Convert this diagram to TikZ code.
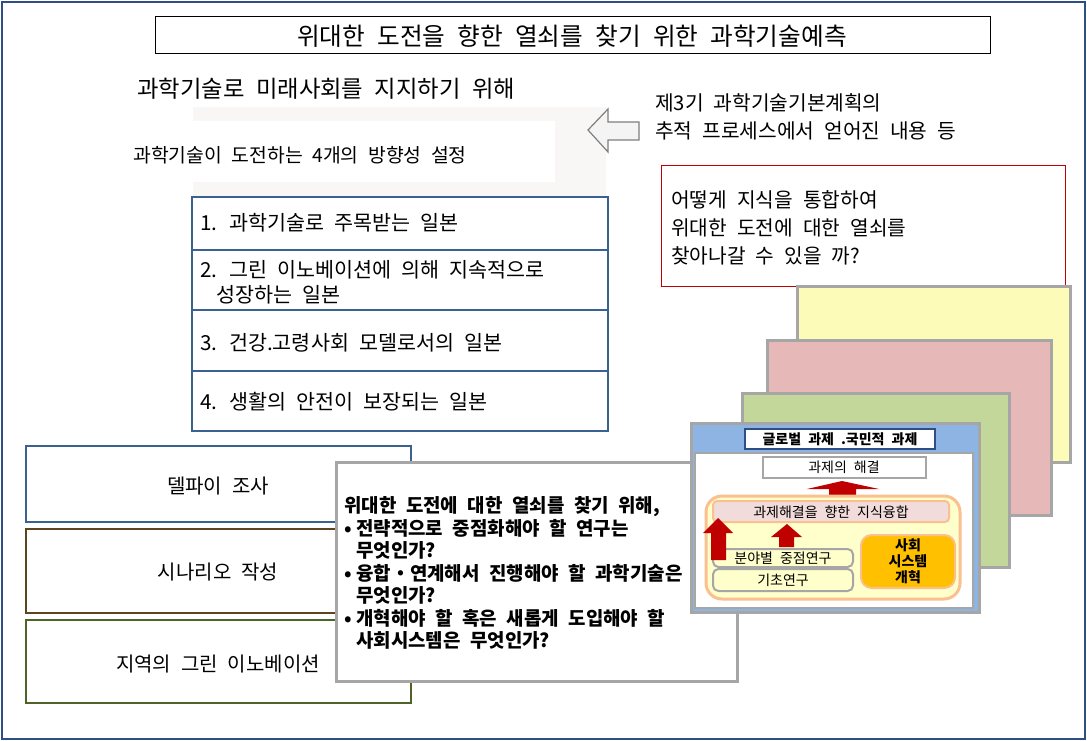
\documentclass[tikz,border=0pt]{standalone}
\usepackage{fontspec}
\setmainfont{Noto Sans CJK KR}[WordSpace=2.2]
\definecolor{frameblue}{HTML}{2E4F86}
\definecolor{listblue}{HTML}{3B6190}
\definecolor{boxbrown}{HTML}{5E4320}
\definecolor{boxolive}{HTML}{4F6228}
\definecolor{boxred}{HTML}{C00000}
\definecolor{cardgray}{HTML}{A6A6A6}
\definecolor{cardyellow}{HTML}{FCFBB8}
\definecolor{cardpink}{HTML}{E6B8B7}
\definecolor{cardgreen}{HTML}{C4D79B}
\definecolor{cardblue}{HTML}{8EB4E3}
\definecolor{paleyellow}{HTML}{FFFFCC}
\definecolor{orangeline}{HTML}{FAC090}
\definecolor{pinkbar}{HTML}{F2DCDB}
\definecolor{orangefill}{HTML}{FFC000}
\definecolor{bggray}{HTML}{F8F7F5}
\definecolor{hollowline}{HTML}{7F7F7F}
\definecolor{hollowfill}{HTML}{F4F4F4}
\newcommand{\qbul}{\makebox[9pt][l]{•}}
\newcommand{\qind}{\hspace*{9pt}}
\begin{document}
\begin{tikzpicture}[x=0.75pt,y=-0.75pt,
  txt/.style={inner sep=0pt, font=\fontsize{15}{18}\selectfont},
  listtxt/.style={inner sep=0pt, font=\fontsize{15.5}{18.75}\selectfont, align=left},
  bigtxt/.style={inner sep=0pt, font=\fontsize{15.2}{21}\selectfont, align=left},
  boldtxt/.style={inner sep=0pt, font=\bfseries\fontsize{14.2}{16.9}\selectfont, align=left},
  smalltxt/.style={inner sep=0pt, font=\fontsize{10.5}{12}\selectfont},
  smallbold/.style={inner sep=0pt, font=\bfseries\fontsize{10.5}{12}\selectfont, align=center},
  listbox/.style={draw=listblue, line width=1.5pt},
  card/.style={draw=cardgray, line width=2.25pt},
  redarrow/.style={fill=boxred, draw=none}
]
\useasboundingbox (0,0) rectangle (1087,741);
\fill[white] (0,0) rectangle (1087,741);
\draw[frameblue, line width=1.5pt] (2,2) rectangle (1085,739);

% title
\draw[black, line width=0.75pt] (155,17) rectangle (990,54);
\node[inner sep=0pt, font=\fontsize{18.5}{20}\selectfont] (title) at (572,36) {위대한 도전을 향한 열쇠를 찾기 위한 과학기술예측};

\node[inner sep=0pt, anchor=west, font=\fontsize{17.5}{20}\selectfont] (sub) at (137,89) {과학기술로 미래사회를 지지하기 위해};

% light background
\fill[bggray] (193,107) rectangle (606,197);
\fill[white] (193,121) rectangle (555,182);
\node[inner sep=0pt, anchor=west, font=\fontsize{14.5}{18}\selectfont] (dir) at (133,155) {과학기술이 도전하는 4개의 방향성 설정};

% hollow arrow
\draw[hollowline, fill=hollowfill, line width=0.9pt, line join=miter]
  (588,130) -- (608,109) -- (608,122) -- (639,122) -- (639,140) -- (608,140) -- (608,152) -- cycle;

\node[bigtxt, anchor=west] (plan) at (655,117) {제3기 과학기술기본계획의\\추적 프로세스에서 얻어진 내용 등};

% red box
\draw[boxred, line width=0.75pt] (661,166) rectangle (1065,287);
\node[bigtxt, anchor=west] (how) at (671,228) {어떻게 지식을 통합하여\\위대한 도전에 대한 열쇠를\\찾아나갈 수 있을 까?};

% list of four directions
\draw[listbox] (192,197) rectangle (608,431);
\draw[listblue, line width=1.5pt] (192,250) -- (608,250);
\draw[listblue, line width=1.5pt] (192,310) -- (608,310);
\draw[listblue, line width=1.5pt] (192,371) -- (608,371);
\node[listtxt, anchor=west] (d1) at (200,223) {1. 과학기술로 주목받는 일본};
\node[listtxt, anchor=west] (d2) at (200,282) {2. 그린 이노베이션에 의해 지속적으로\\\hspace*{12pt}성장하는 일본};
\node[listtxt, anchor=west] (d3) at (200,343) {3. 건강.고령사회 모델로서의 일본};
\node[listtxt, anchor=west] (d4) at (200,402) {4. 생활의 안전이 보장되는 일본};

% left boxes
\draw[listbox] (26,446) rectangle (411,522);
\node[txt] (delphi) at (218,486) {델파이 조사};
\draw[boxbrown, line width=1.5pt] (26,529) rectangle (411,613);
\node[txt] (scen) at (218,572) {시나리오 작성};
\draw[boxolive, line width=1.5pt] (26,620) rectangle (411,703);
\node[txt] (green) at (218,664) {지역의 그린 이노베이션};

% question text box
\draw[cardgray, line width=2.25pt, fill=white] (336,462) rectangle (737,681);
\node[boldtxt, anchor=west] (quest) at (344,573) {위대한 도전에 대한 열쇠를 찾기 위해,\\
\qbul 전략적으로 중점화해야 할 연구는\\
\qind 무엇인가?\\
\qbul 융합・연계해서 진행해야 할 과학기술은\\
\qind 무엇인가?\\
\qbul 개혁해야 할 혹은 새롭게 도입해야 할\\
\qind 사회시스템은 무엇인가?};

% stacked cards
\draw[card, fill=cardyellow] (797,287) rectangle (1070,462);
\draw[card, fill=cardpink] (767,340) rectangle (1051,515);
\draw[card, fill=cardgreen] (742,393) rectangle (1009,567);
\draw[card, fill=cardblue] (691,423) rectangle (979,612);
\draw[cardgray, line width=2pt, fill=white] (695,453) rectangle (973,608);

% header
\draw[frameblue, line width=1.5pt, fill=white] (745,429) rectangle (935,449);
\node[smallbold] (glob) at (840,439) {글로벌 과제 .국민적 과제};
\draw[cardgray, line width=1.5pt, fill=white] (763,457) rectangle (926,478);
\node[smalltxt] (solve) at (844,467.5) {과제의 해결};

% big red arrow
\fill[redarrow] (842,481) -- (879,489) -- (856,489) -- (856,498) -- (829,498) -- (829,489) -- (807,489) -- cycle;

% yellow rounded area
\draw[orangeline, line width=2.25pt, fill=paleyellow, rounded corners=12pt] (706,496) rectangle (960,599);
\draw[orangeline, line width=1.5pt, fill=pinkbar, rounded corners=3pt] (713,501) rectangle (949,522);
\node[smalltxt] (fusion) at (831,512) {과제해결을 향한 지식융합};

\draw[cardgray, line width=1.5pt, fill=paleyellow, rounded corners=4pt] (713,549) rectangle (853,567);
\node[smalltxt] (field) at (783,558) {분야별 중점연구};
\draw[cardgray, line width=1.5pt, fill=paleyellow, rounded corners=4pt] (713,569) rectangle (853,591);
\node[smalltxt] (basic) at (783,580) {기초연구};

\draw[orangeline, line width=1.5pt, fill=orangefill, rounded corners=8pt] (861,535) rectangle (955,588);
\node[smallbold] (reform) at (908,561.5) {사회\\시스템\\개혁};

% small red arrows
\fill[redarrow] (718,518) -- (733,533) -- (726,533) -- (726,560) -- (711,560) -- (711,533) -- (703,533) -- cycle;
\fill[redarrow] (787,524) -- (802,537) -- (794,537) -- (794,547) -- (779,547) -- (779,537) -- (771,537) -- cycle;
\end{tikzpicture}
\end{document}
